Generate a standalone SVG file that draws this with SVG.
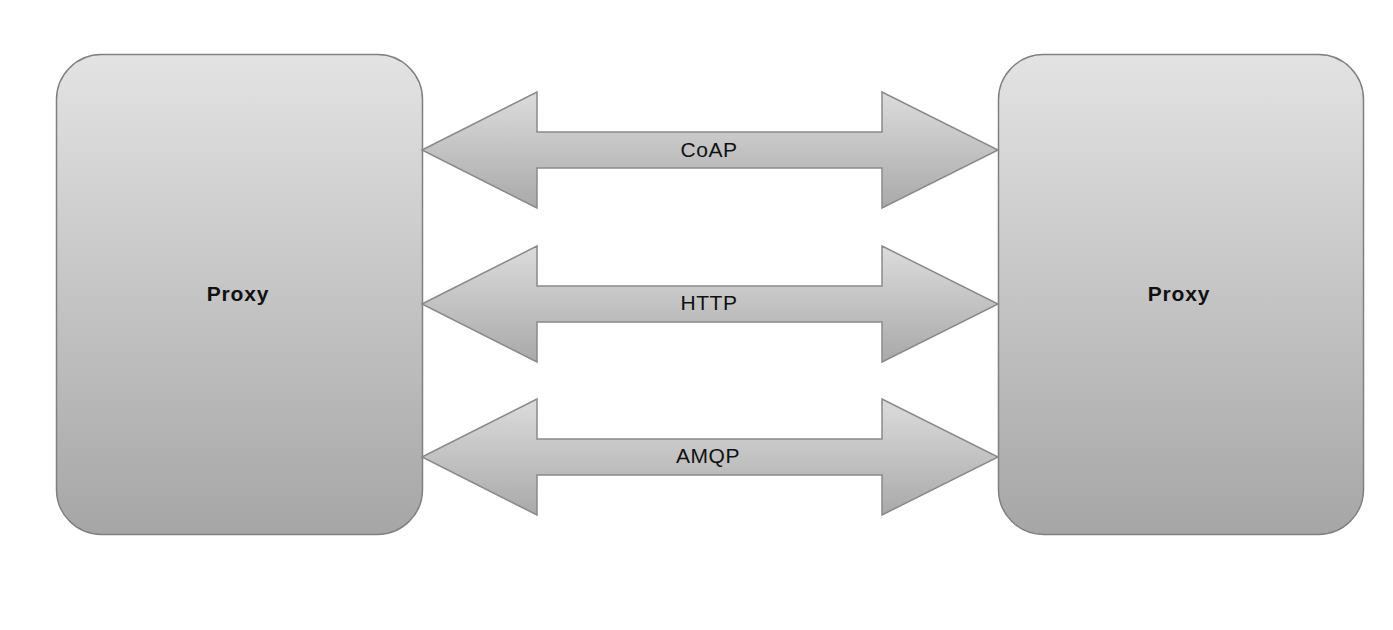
<svg xmlns="http://www.w3.org/2000/svg" width="1393" height="630" viewBox="0 0 1393 630">
<defs>
<linearGradient id="boxg" x1="0" y1="0" x2="0" y2="1">
<stop offset="0" stop-color="#e3e3e3"/>
<stop offset="1" stop-color="#a6a6a6"/>
</linearGradient>
<linearGradient id="arrg" x1="0" y1="0" x2="0" y2="1">
<stop offset="0" stop-color="#dcdcdc"/>
<stop offset="1" stop-color="#a9a9a9"/>
</linearGradient>
<style>
.box{fill:url(#boxg);stroke:#808080;stroke-width:1.5}
.arr{fill:url(#arrg);stroke:#8a8a8a;stroke-width:1.5}
.lbl{font-family:"Liberation Sans",Arial,sans-serif;font-size:21px;letter-spacing:0.5px;fill:#111;text-anchor:middle}
.ttl{font-family:"Liberation Sans",Arial,sans-serif;font-size:21px;letter-spacing:0.8px;font-weight:bold;fill:#111;text-anchor:middle}
</style>
</defs>
<rect width="1393" height="630" fill="#fff"/>
<g id="proxy-left">
<rect class="box" x="56.5" y="54.5" width="366" height="480" rx="45" ry="45"/>
<text class="ttl" x="238" y="301">Proxy</text>
</g>
<g id="proxy-right">
<rect class="box" x="998.5" y="54.5" width="365" height="480" rx="45" ry="45"/>
<text class="ttl" x="1179" y="301">Proxy</text>
</g>
<g id="connectors">
<g id="coap">
<path class="arr" d="M422,150 L537,92 L537,132 L882,132 L882,92 L998,150 L882,208 L882,168 L537,168 L537,208 Z"/>
<text class="lbl" x="709" y="157">CoAP</text>
</g>
<g id="http">
<path class="arr" d="M422,304 L537,246 L537,286 L882,286 L882,246 L998,304 L882,362 L882,322 L537,322 L537,362 Z"/>
<text class="lbl" x="709" y="310">HTTP</text>
</g>
<g id="amqp">
<path class="arr" d="M422,457 L537,399 L537,439 L882,439 L882,399 L998,457 L882,515 L882,475 L537,475 L537,515 Z"/>
<text class="lbl" x="708" y="463">AMQP</text>
</g>
</g>
</svg>
